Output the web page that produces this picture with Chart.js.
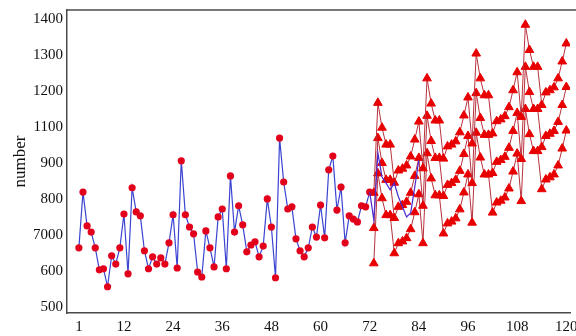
<!DOCTYPE html>
<html>
<head>
<meta charset="utf-8">
<script src="https://cdn.jsdelivr.net/npm/chart.js@4/dist/chart.umd.min.js"></script>
<style>
  html, body { margin: 0; padding: 0; background: #fff; }
  #wrap { width: 576px; height: 336px; }
</style>
</head>
<body>
<div id="wrap"><canvas id="grafico" width="576" height="336"></canvas></div>
<script>
  // observed series, months 1..72
  const observado = [
    664, 819, 725, 708, 664, 603, 606, 556, 642, 619, 664, 758,
    592, 831, 764, 753, 656, 606, 639, 619, 636, 619, 678, 756,
    608, 906, 756, 722, 703, 597, 583, 711, 664, 611, 750, 772,
    606, 864, 708, 781, 728, 653, 672, 681, 639, 669, 800, 722,
    581, 969, 847, 772, 778, 689, 656, 639, 664, 722, 694, 783,
    692, 881, 919, 769, 833, 678, 753, 744, 736, 781, 778, 819
  ];
  // observed continuation (no markers), months 72..84
  const observadoFim = [819, 742, 928, 861, 844, 825, 844, 806, 778, 750, 761, 833, 908];

  // forecasts, months 73..120
  const previsaoSup = [
    817, 1067, 998, 951, 951, 845, 879, 884, 893, 918, 965, 1015,
    885, 1135, 1065, 1018, 1018, 912, 946, 951, 960, 985, 1032, 1082,
    954, 1204, 1135, 1088, 1088, 982, 1016, 1021, 1030, 1055, 1102, 1152,
    1028, 1284, 1214, 1167, 1167, 1061, 1096, 1102, 1110, 1135, 1182, 1232
  ];
  const previsaoMed = [
    719, 969, 900, 853, 853, 747, 778, 783, 792, 817, 864, 914,
    781, 1031, 961, 914, 914, 808, 839, 844, 853, 878, 925, 975,
    844, 1094, 1025, 978, 978, 872, 903, 908, 917, 942, 989, 1039,
    911, 1167, 1097, 1050, 1050, 944, 975, 981, 989, 1014, 1061, 1111
  ];
  const previsaoInf = [
    621, 871, 802, 755, 755, 649, 677, 682, 691, 716, 763, 813,
    677, 927, 857, 810, 810, 704, 732, 737, 746, 771, 818, 868,
    734, 984, 915, 868, 868, 762, 790, 795, 804, 829, 876, 926,
    794, 1050, 980, 933, 933, 827, 854, 860, 868, 893, 940, 990
  ];

  const xTicks = [1, 12, 24, 36, 48, 60, 72, 84, 96, 108, 120];
  const yTickLabels = ["500", "600", "7000", "800", "900", "1100", "1200", "1300", "1400"];

  function pontos(valores, inicio) {
    return valores.map((v, i) => ({ x: inicio + i, y: v }));
  }

  const fonteEixo = { family: "'Liberation Serif', 'DejaVu Serif', serif", size: 15 };

  const moldura = {
    id: "moldura",
    afterDraw(chart) {
      const { ctx, chartArea } = chart;
      ctx.save();
      ctx.strokeStyle = "#4a4a4a";
      ctx.lineWidth = 1.5;
      ctx.beginPath();
      ctx.moveTo(chartArea.left, chartArea.top);
      ctx.lineTo(576, chartArea.top);
      ctx.stroke();
      ctx.restore();
    },
  };

  const triangulo = {
    borderColor: "#b8303c",
    borderWidth: 1,
    pointStyle: "triangle",
    pointRadius: 5,
    pointBackgroundColor: "#e80000",
    pointBorderColor: "#e80000",
    pointBorderWidth: 1,
    tension: 0,
    fill: false,
  };

  new Chart(document.getElementById("grafico").getContext("2d"), {
    type: "line",
    data: {
      datasets: [
        {
          label: "observado fim",
          data: pontos(observadoFim, 72),
          borderColor: "#4a2ad0",
          borderWidth: 1.2,
          pointRadius: 0,
          tension: 0,
        },
        {
          label: "observado",
          data: pontos(observado, 1),
          borderColor: "#3a44d0",
          borderWidth: 1.2,
          pointRadius: 3.6,
          pointBackgroundColor: "#e3001b",
          pointBorderColor: "#e3001b",
          pointBorderWidth: 0,
          tension: 0,
        },
        Object.assign({ label: "sup", data: pontos(previsaoSup, 73) }, triangulo),
        Object.assign({ label: "med", data: pontos(previsaoMed, 73) }, triangulo),
        Object.assign({ label: "inf", data: pontos(previsaoInf, 73) }, triangulo),
      ],
    },
    options: {
      responsive: false,
      animation: false,
      layout: { padding: { top: 10, right: 0, bottom: 0, left: 0 } },
      plugins: { legend: { display: false }, tooltip: { enabled: false } },
      scales: {
        x: {
          type: "linear",
          min: -1.9,
          max: 120.9,
          afterBuildTicks: (s) => { s.ticks = xTicks.map((v) => ({ value: v })); },
          afterFit: (s) => {
            s.height = 23;
            s.paddingLeft = 0;
            s.paddingRight = 0;
          },
          grid: { display: false, drawTicks: false },
          border: { display: true, color: "#4a4a4a", width: 1.5 },
          ticks: { color: "#111", font: fonteEixo, padding: 5, maxRotation: 0, autoSkip: false },
        },
        y: {
          min: 483,
          max: 1325,
          afterBuildTicks: (s) => { s.ticks = yTickLabels.map((t, i) => ({ value: 500 + i * 100 })); },
          afterFit: (s) => {
            s.width = 67;
            s.paddingTop = 0;
            s.paddingBottom = 0;
          },
          grid: { display: false, drawTicks: false },
          border: { display: true, color: "#4a4a4a", width: 1.5 },
          ticks: {
            color: "#111",
            font: fonteEixo,
            padding: 4,
            autoSkip: false,
            callback: (v) => yTickLabels[Math.round((v - 500) / 100)] ?? "",
          },
          title: {
            display: true,
            text: "number",
            color: "#111",
            font: { family: "'Liberation Serif', 'DejaVu Serif', serif", size: 17 },
            padding: { top: 10, bottom: 4 },
          },
        },
      },
    },
    plugins: [moldura],
  });
</script>
</body>
</html>
